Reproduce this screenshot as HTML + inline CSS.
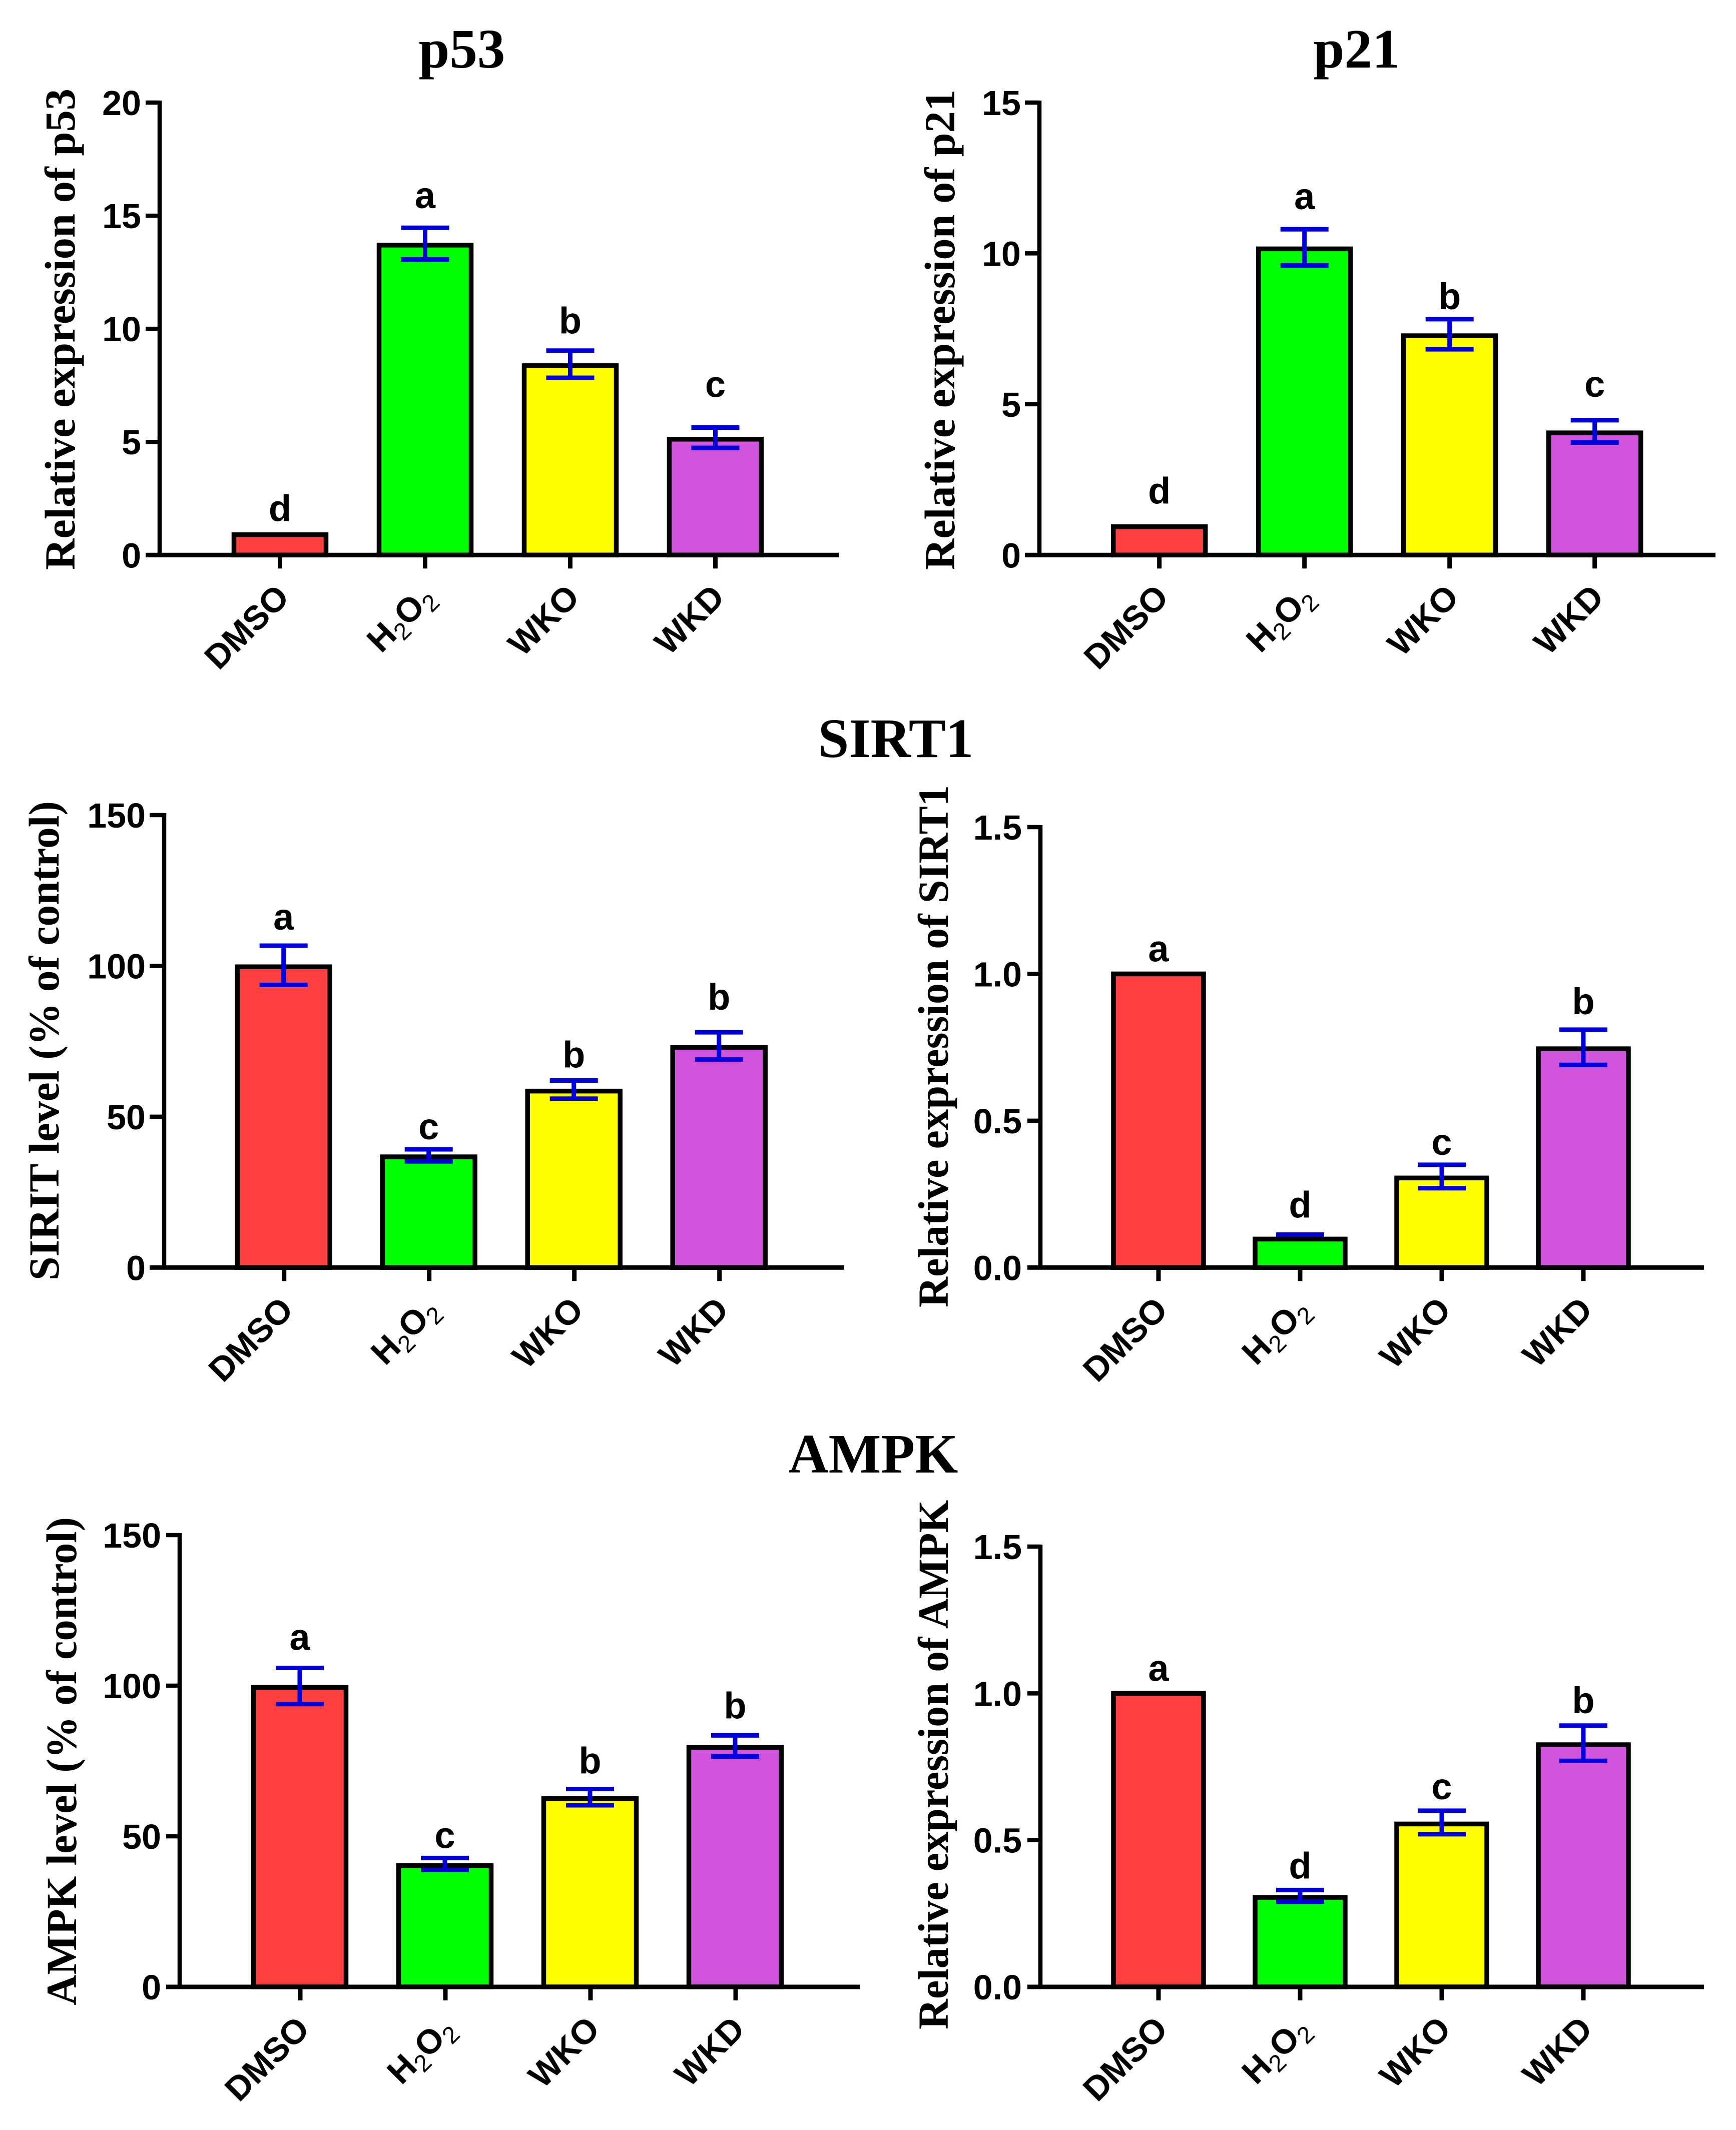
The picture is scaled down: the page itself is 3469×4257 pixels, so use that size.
<!DOCTYPE html>
<html lang="en">
<head>
<meta charset="utf-8">
<title>Relative expression charts</title>
<style>
html,body{margin:0;padding:0;background:#fff;}
svg{display:block;}
.title{font-family:"Liberation Serif",serif;font-weight:700;font-size:111px;fill:#000;text-anchor:middle;}
.ytitle{font-family:"Liberation Serif",serif;font-weight:700;font-size:86px;fill:#000;text-anchor:start;}
.tick{font-family:"Liberation Sans",sans-serif;font-weight:700;font-size:70px;fill:#000;text-anchor:end;}
.cat{font-family:"Liberation Sans",sans-serif;font-weight:700;font-size:68px;fill:#000;text-anchor:end;}
.sig{font-family:"Liberation Sans",sans-serif;font-weight:700;font-size:74px;fill:#000;text-anchor:middle;}
</style>
</head>
<body>
<svg id="figure" xmlns="http://www.w3.org/2000/svg" width="3469" height="4257" viewBox="0 0 3469 4257">
<rect x="0" y="0" width="3469" height="4257" fill="#fff"/>
<text class="title" x="923" y="135">p53</text>
<text class="title" x="2711" y="135">p21</text>
<text class="title" x="1790" y="1513">SIRT1</text>
<text class="title" x="1745" y="2943">AMPK</text>
<text class="ytitle" transform="translate(149,1139) rotate(-90)" textLength="962" lengthAdjust="spacingAndGlyphs">Relative expression of p53</text>
<text class="ytitle" transform="translate(1907,1139) rotate(-90)" textLength="960" lengthAdjust="spacingAndGlyphs">Relative expression of p21</text>
<text class="ytitle" transform="translate(117,2559) rotate(-90)" textLength="958" lengthAdjust="spacingAndGlyphs">SIRIT level (% of control)</text>
<text class="ytitle" transform="translate(1894,2613) rotate(-90)" textLength="1044" lengthAdjust="spacingAndGlyphs">Relative expression of SIRT1</text>
<text class="ytitle" transform="translate(152,4008) rotate(-90)" textLength="976" lengthAdjust="spacingAndGlyphs">AMPK level (% of control)</text>
<text class="ytitle" transform="translate(1894,4056) rotate(-90)" textLength="1058" lengthAdjust="spacingAndGlyphs">Relative expression of AMPK</text>
<g id="panels"></g>
</svg>
<script>
var categories = ['DMSO', 'H2O2', 'WKO', 'WKD'];
var p53Values = [0.9, 13.7, 8.37, 5.12];
var p53Errors = [0, 0.7, 0.6, 0.45];
var p53Letters = ['d', 'a', 'b', 'c'];
var p53Ticks = ['0', '5', '10', '15', '20'];
var p21Values = [0.94, 10.15, 7.27, 4.05];
var p21Errors = [0, 0.6, 0.5, 0.37];
var p21Letters = ['d', 'a', 'b', 'c'];
var p21Ticks = ['0', '5', '10', '15'];
var sirtLevelValues = [99.7, 36.7, 58.5, 73];
var sirtLevelErrors = [6.5, 2, 3, 4.5];
var sirtLevelLetters = ['a', 'c', 'b', 'b'];
var sirtLevelTicks = ['0', '50', '100', '150'];
var sirtExprValues = [1, 0.097, 0.305, 0.745];
var sirtExprErrors = [0, 0.01, 0.04, 0.06];
var sirtExprLetters = ['a', 'd', 'c', 'b'];
var sirtExprTicks = ['0.0', '0.5', '1.0', '1.5'];
var ampkLevelValues = [99.4, 40.3, 62.5, 79.5];
var ampkLevelErrors = [6, 2, 2.7, 3.5];
var ampkLevelLetters = ['a', 'c', 'b', 'b'];
var ampkLevelTicks = ['0', '50', '100', '150'];
var ampkExprValues = [1, 0.305, 0.555, 0.825];
var ampkExprErrors = [0, 0.02, 0.04, 0.06];
var ampkExprLetters = ['a', 'd', 'c', 'b'];
var ampkExprTicks = ['0.0', '0.5', '1.0', '1.5'];

var barColors = ['#ff4040', '#00ff00', '#ffff00', '#d055dc'];
var panels = [
  {id:'p53', values:p53Values, errors:p53Errors, letters:p53Letters, ticks:p53Ticks, axisX:319, top:205, bottom:1109.3, xEnd:1676, first:559.5, step:290, barW:184, barOffset:0, tickLen:28, nudge:[-5,-2,3,-24]},
  {id:'p21', values:p21Values, errors:p21Errors, letters:p21Letters, ticks:p21Ticks, axisX:2077, top:205, bottom:1109.3, xEnd:3428, first:2316.7, step:290, barW:184, barOffset:0, tickLen:29, nudge:[-24,-3,17,-10]},
  {id:'sirt-level', values:sirtLevelValues, errors:sirtLevelErrors, letters:sirtLevelLetters, ticks:sirtLevelTicks, axisX:328, top:1629, bottom:2533.3, xEnd:1686, first:567.7, step:290, barW:185, barOffset:-1, tickLen:29, nudge:[5,17,11,-8]},
  {id:'sirt-expression', values:sirtExprValues, errors:sirtExprErrors, letters:sirtExprLetters, ticks:sirtExprTicks, axisX:2079, top:1653, bottom:2533.3, xEnd:3405, first:2315, step:283, barW:180, barOffset:0, tickLen:26, nudge:[-3,3,17,6]},
  {id:'ampk-level', values:ampkLevelValues, errors:ampkLevelErrors, letters:ampkLevelLetters, ticks:ampkLevelTicks, axisX:359, top:3068, bottom:3971, xEnd:1718, first:600, step:290, barW:185, barOffset:-1, tickLen:27, nudge:[1,17,6,3]},
  {id:'ampk-expression', values:ampkExprValues, errors:ampkExprErrors, letters:ampkExprLetters, ticks:ampkExprTicks, axisX:2079, top:3091, bottom:3971, xEnd:3405, first:2315, step:283, barW:180, barOffset:0, tickLen:26, nudge:[-3,14,14,12]}
];

var NS = 'http://www.w3.org/2000/svg';
var root = document.getElementById('panels');

function make(parent, tag, attrs) {
  var el = document.createElementNS(NS, tag);
  for (var k in attrs) { el.setAttribute(k, attrs[k]); }
  parent.appendChild(el);
  return el;
}
function line(parent, x1, y1, x2, y2, color, width) {
  return make(parent, 'line', {x1:x1, y1:y1, x2:x2, y2:y2, stroke:color, 'stroke-width':width});
}
function writeCategory(el, label) {
  var parts = label.match(/[A-Za-z]+|\d+/g);
  var pendingShift = 0;
  parts.forEach(function (part) {
    var isSub = /^\d+$/.test(part) && label !== part;
    var span = make(el, 'tspan', {});
    if (isSub) {
      span.setAttribute('dy', '14');
      span.setAttribute('font-size', '48');
      span.setAttribute('font-weight', '400');
      pendingShift = -14;
    } else if (pendingShift) {
      span.setAttribute('dy', pendingShift);
      pendingShift = 0;
    }
    span.textContent = part;
  });
}

panels.forEach(function (p) {
  var g = make(root, 'g', {});
  
  
  var maxValue = Number(p.ticks[p.ticks.length - 1]);
  var yScale = function (v) { return p.bottom - (v / maxValue) * (p.bottom - p.top); };
  var xScale = function (i) { return p.first + i * p.step; };

  p.values.forEach(function (v, i) {
    var tx = xScale(i);
    var cx = tx + p.barOffset;
    var yTop = yScale(v);
    var bar = make(g, 'rect', {x:cx - p.barW / 2, y:yTop, width:p.barW, height:p.bottom - yTop, fill:barColors[i], stroke:'#000', 'stroke-width':9.5});
    
    

    var err = p.errors[i];
    var labelBase = yTop;
    if (err > 0) {
      var eg = make(g, 'g', {});
      
      
      var hi = yScale(v + err);
      var lo = yScale(v - err);
      line(eg, cx - 48, hi - 3, cx + 48, hi - 3, '#0000dc', 9);
      if (lo - hi > 20) {
        line(eg, cx, hi - 3, cx, lo - 3, '#0000dc', 9);
        line(eg, cx - 48, lo - 3, cx + 48, lo - 3, '#0000dc', 9);
      }
      labelBase = hi;
    }
    var sig = make(g, 'text', {'class':'sig', x:cx, y:labelBase - (err > 0 ? 40 : 22) + p.nudge[i]});
    
    
    sig.textContent = p.letters[i];

    var tick = line(g, tx, p.bottom, tx, p.bottom + 27, '#000', 9);
    
    

    var ex = tx + 22, ey = p.bottom + 88;
    var cat = make(g, 'text', {'class':'cat', transform:'translate(' + ex + ',' + ey + ') rotate(-45)'});
    
    
    writeCategory(cat, categories[i]);
  });

  var yAxis = line(g, p.axisX, p.top - 4, p.axisX, p.bottom + 4, '#000', 8.5);
  
  
  var xAxis = line(g, p.axisX - p.tickLen, p.bottom, p.xEnd, p.bottom, '#000', 9);
  
  

  p.ticks.forEach(function (label) {
    var y = yScale(Number(label));
    var t = line(g, p.axisX - p.tickLen, y, p.axisX, y, '#000', 8.5);
    
    
    var lab = make(g, 'text', {'class':'tick', x:p.axisX - 37, y:y + 25});
    
    
    lab.textContent = label;
  });
});
</script>
</body>
</html>
